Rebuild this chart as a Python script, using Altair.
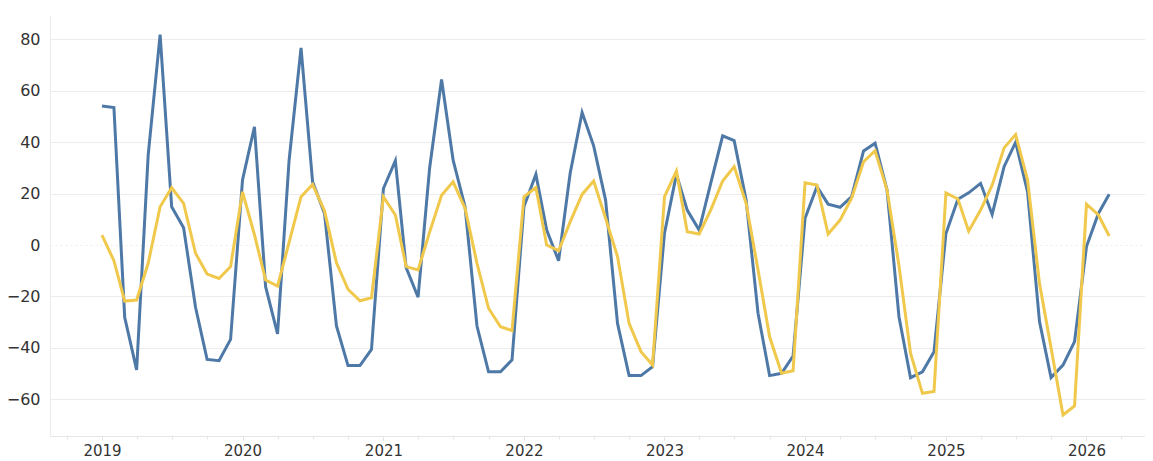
import altair as alt
import pandas as pd

months = pd.date_range("2019-01-01", "2026-03-01", freq="MS").strftime("%Y-%m-%d").tolist()

blue_values = [
    54.1, 53.5, -28.1, -48.6, 35.0, 81.9, 14.9, 6.7, -24.2, -44.5, -45.0, -36.7,
    25.3, 46.0, -16.2, -34.6, 33.0, 76.7, 24.6, 12.3, -31.5, -46.9, -46.9, -40.6,
    22.0, 32.8, -8.8, -20.3, 30.0, 64.4, 33.0, 14.9, -31.5, -49.3, -49.3, -44.7,
    15.0, 27.5, 5.8, -6.1, 27.9, 51.6, 38.6, 17.5, -30.5, -50.8, -50.8, -47.3,
    4.6, 27.5, 13.6, 5.8, 24.0, 42.5, 40.6, 17.5, -26.6, -50.8, -49.9, -43.2,
    10.4, 22.7, 15.9, 14.7, 18.8, 36.6, 39.6, 21.4, -27.9, -51.6, -49.3, -41.5,
    4.5, 17.8, 20.3, 24.0, 11.9, 30.5, 40.0, 20.7, -29.8, -51.6, -46.7, -37.6,
    -0.6, 12.3, 19.8,
]

yellow_values = [
    3.9, -6.1, -21.8, -21.4, -7.1, 14.9, 22.3, 16.2, -3.2, -11.3, -13.0, -8.4,
    20.7, 4.0, -13.6, -16.0, 1.0, 18.8, 23.6, 13.3, -6.9, -17.2, -21.7, -20.5,
    18.8, 11.7, -8.4, -9.7, 5.0, 19.4, 24.6, 14.3, -7.1, -24.6, -31.8, -33.3,
    18.8, 22.4, 0.0, -2.2, 9.0, 19.7, 24.9, 10.4, -4.5, -30.5, -41.5, -46.7,
    18.8, 28.8, 5.2, 4.3, 13.6, 24.9, 30.5, 16.2, -9.7, -35.7, -49.9, -48.9,
    24.2, 23.3, 4.3, 9.7, 18.2, 32.4, 36.7, 21.4, -8.0, -42.1, -57.7, -57.0,
    20.3, 17.9, 5.4, 13.6, 23.3, 37.8, 43.0, 25.3, -15.0, -40.0, -66.1, -62.6,
    15.9, 11.7, 3.5,
]

series_names = ["Blue series", "Yellow series"]
series_colors = ["#4e79a7", "#f0c94c"]

year_ticks = [f"{y}-01-01" for y in range(2019, 2027)]
minor_ticks = pd.date_range("2018-10-01", "2026-04-01", freq="QS").strftime("%Y-%m-%d").tolist()
y_ticks = [-60, -40, -20, 0, 20, 40, 60, 80]

df = pd.DataFrame(
    {
        "month": months * 2,
        "value": blue_values + yellow_values,
        "series": [series_names[0]] * len(months) + [series_names[1]] * len(months),
    }
)

x_scale = alt.Scale(domain=["2018-08-19", "2026-06-02"])
y_scale = alt.Scale(domain=[-74.3, 89.5], nice=False, zero=False)

font = "DejaVu Sans"
label_color = "#333333"

lines = (
    alt.Chart(df)
    .mark_line(strokeWidth=3, strokeJoin="miter", strokeCap="butt")
    .encode(
        x=alt.X(
            "month:T",
            scale=x_scale,
            axis=alt.Axis(
                orient="bottom",
                values=year_ticks,
                format="%Y",
                title=None,
                grid=False,
                domainColor="#e6e6e6",
                tickColor="#d9d9d9",
                tickSize=4,
                labelFontSize=15,
                labelColor=label_color,
                labelFont=font,
                labelPadding=3,
            ),
        ),
        y=alt.Y(
            "value:Q",
            scale=y_scale,
            axis=alt.Axis(
                values=y_ticks,
                title=None,
                ticks=False,
                domainColor="#ececec",
                gridColor="#ececec",
                gridDash={"condition": {"test": "datum.value === 0", "value": [2, 3]}, "value": []},
                labelFontSize=16,
                labelColor=label_color,
                labelFont=font,
                labelPadding=10,
            ),
        ),
        color=alt.Color(
            "series:N",
            scale=alt.Scale(domain=series_names, range=series_colors),
            legend=None,
        ),
        order=alt.Order("month:T"),
    )
)

minor_layer = (
    alt.Chart(df)
    .mark_line(opacity=0)
    .encode(
        x=alt.X(
            "month:T",
            scale=x_scale,
            axis=alt.Axis(
                orient="bottom",
                values=minor_ticks,
                labels=False,
                title=None,
                grid=False,
                domain=False,
                tickColor="#e6e6e6",
                tickSize=3,
            ),
        ),
        y=alt.Y("value:Q", scale=y_scale, axis=None),
        detail="series:N",
    )
)

chart = (
    alt.layer(lines, minor_layer)
    .resolve_axis(x="independent", y="independent")
    .properties(
        width=1095,
        height=421,
        autosize=alt.AutoSizeParams(type="none"),
        padding={"left": 42, "top": 7, "right": 0, "bottom": 25},
    )
    .configure_view(stroke=None)
)

chart.save("out.html", embed_options={"renderer": "svg", "actions": False})
